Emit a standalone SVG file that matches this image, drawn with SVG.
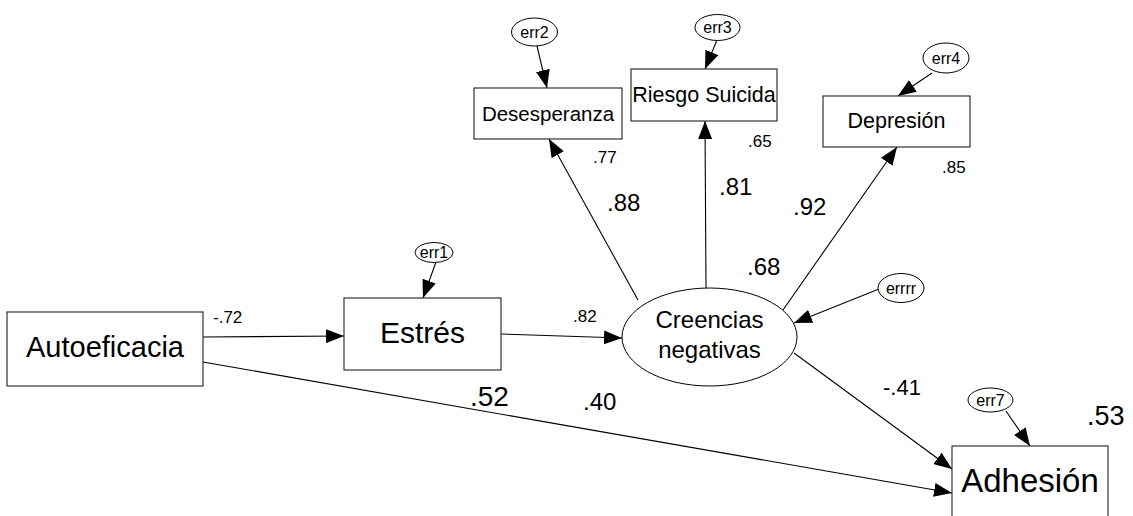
<svg xmlns="http://www.w3.org/2000/svg" width="1133" height="516" viewBox="0 0 1133 516">
<defs>
<marker id="ah" markerUnits="userSpaceOnUse" markerWidth="18" markerHeight="14" refX="18" refY="7" orient="auto" viewBox="0 0 18 14">
<path d="M0,0 L18,7 L0,14 z" fill="#000"/>
</marker>
</defs>
<style>
text{font-family:"Liberation Sans",Arial,sans-serif;fill:#000}
.box{fill:#fff;stroke:#333;stroke-width:1.2}
.ell{fill:#fff;stroke:#000;stroke-width:1}
.con line{stroke:#000;stroke-width:1.1;marker-end:url(#ah)}
.c{text-anchor:middle}
.err{font-size:16px;text-anchor:middle}
.sm{font-size:17px}
.md{font-size:24px}
</style>
<rect width="1133" height="516" fill="#fff"/>
<g id="connectors" class="con">
<line x1="203" y1="337" x2="344" y2="336"/>
<line x1="501" y1="334" x2="622" y2="338"/>
<line x1="203" y1="362" x2="952" y2="493"/>
<line x1="794" y1="353" x2="952" y2="469"/>
<line x1="638" y1="300" x2="549" y2="139"/>
<line x1="706" y1="288" x2="705" y2="121"/>
<line x1="783" y1="310" x2="897" y2="147"/>
<line x1="436" y1="262" x2="423" y2="298"/>
<line x1="537" y1="46" x2="547" y2="88"/>
<line x1="717" y1="40" x2="705" y2="69"/>
<line x1="932" y1="73" x2="898" y2="96"/>
<line x1="879" y1="289" x2="794" y2="323"/>
<line x1="1006" y1="411" x2="1030" y2="446"/>
</g>
<g id="autoeficacia"><rect class="box" x="7" y="312" width="196" height="74"/><text class="c" x="105" y="357" font-size="29">Autoeficacia</text></g>
<g id="estres"><rect class="box" x="344" y="298" width="157" height="72"/><text class="c" x="422.5" y="343" font-size="30">Estrés</text></g>
<g id="creencias"><ellipse class="ell" cx="709.5" cy="337" rx="87.5" ry="49"/><text class="c" x="709.5" y="328" font-size="24">Creencias</text><text class="c" x="709.5" y="358" font-size="24">negativas</text></g>
<g id="adhesion"><rect class="box" x="952" y="446" width="156" height="80"/><text class="c" x="1030" y="492" font-size="33">Adhesión</text></g>
<g id="desesperanza"><rect class="box" x="474" y="88" width="148" height="51"/><text class="c" x="548" y="121" font-size="20.5">Desesperanza</text></g>
<g id="riesgo"><rect class="box" x="631" y="69" width="146" height="52"/><text class="c" x="704" y="102" font-size="21.5">Riesgo Suicida</text></g>
<g id="depresion"><rect class="box" x="823" y="96" width="147" height="51"/><text class="c" x="896.5" y="128" font-size="21.5">Depresión</text></g>
<g id="err1"><ellipse class="ell" cx="434" cy="252.5" rx="19" ry="10"/><text class="err" x="434" y="258">err1</text></g>
<g id="err2"><ellipse class="ell" cx="534.5" cy="32" rx="23" ry="14"/><text class="err" x="534.5" y="38">err2</text></g>
<g id="err3"><ellipse class="ell" cx="717.5" cy="27.5" rx="22.5" ry="13"/><text class="err" x="717.5" y="33">err3</text></g>
<g id="err4"><ellipse class="ell" cx="946" cy="58" rx="23" ry="15"/><text class="err" x="946" y="64">err4</text></g>
<g id="errrr"><ellipse class="ell" cx="901" cy="288" rx="23" ry="14.5"/><text class="err" x="901" y="294">errrr</text></g>
<g id="err7"><ellipse class="ell" cx="990.5" cy="400" rx="22.5" ry="12"/><text class="err" x="990.5" y="406">err7</text></g>
<g id="labels">
<text class="sm" x="213" y="323">-.72</text>
<text class="sm" x="573" y="322">.82</text>
<text x="470" y="406" font-size="28">.52</text>
<text class="md" x="583" y="410">.40</text>
<text x="883" y="395" font-size="22">-.41</text>
<text x="1087" y="425" font-size="27">.53</text>
<text class="md" x="747" y="275">.68</text>
<text class="md" x="607" y="211">.88</text>
<text class="md" x="719" y="195">.81</text>
<text class="md" x="793" y="215">.92</text>
<text class="sm" x="593" y="163">.77</text>
<text class="sm" x="748" y="147">.65</text>
<text class="sm" x="942" y="173">.85</text>
</g>
</svg>
